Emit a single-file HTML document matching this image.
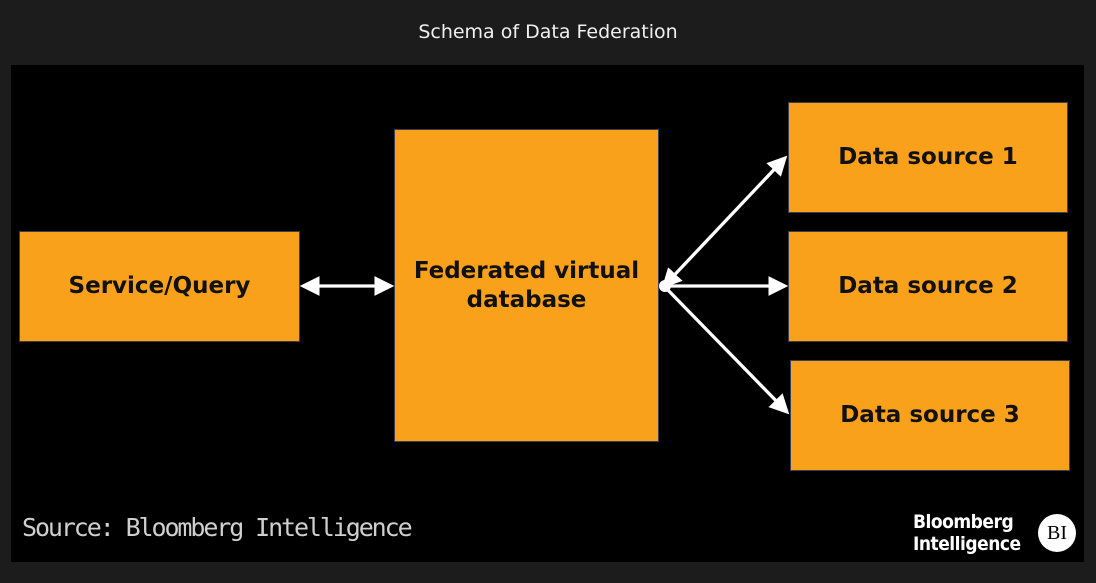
<!DOCTYPE html>
<html><head><style>
body{margin:0;width:1096px;height:583px;background:#1c1c1c;position:relative;overflow:hidden;font-family:"Liberation Sans","DejaVu Sans",sans-serif}
.t{position:absolute;top:21px;left:0;width:1096px;text-align:center;color:#f0f0f0;font-size:19px;font-family:"DejaVu Sans",sans-serif}
.p{position:absolute;left:11px;top:65px;width:1073px;height:497px;background:#000}
.b{position:absolute;background:#f9a11b;border:1px solid #3a3f55;box-sizing:border-box;display:flex;align-items:center;justify-content:center;text-align:center;font-weight:bold;font-size:23px;color:#111;line-height:29px;font-family:"DejaVu Sans",sans-serif}
.src{position:absolute;left:22px;top:513px;color:#cfcfcf;font-size:25px;font-family:"DejaVu Sans Mono","Liberation Mono",monospace;letter-spacing:-2.1px}
.bl{position:absolute;left:913px;top:511px;color:#fff;font-size:19px;line-height:22px;font-weight:bold;font-family:"DejaVu Sans Condensed","Liberation Sans Narrow",sans-serif;letter-spacing:-0.5px}
.bi{position:absolute;left:1038px;top:514px;width:38px;height:38px;border-radius:50%;background:#fff;color:#000;font-family:"Liberation Serif",serif;font-size:20px;display:flex;align-items:center;justify-content:center}
</style></head><body>
<div class="t">Schema of Data Federation</div>
<div class="p"></div>
<div class="b" style="left:19px;top:231px;width:281px;height:111px">Service/Query</div>
<div class="b" style="left:394px;top:129px;width:265px;height:313px">Federated virtual<br>database</div>
<div class="b" style="left:788px;top:102px;width:280px;height:111px">Data source 1</div>
<div class="b" style="left:788px;top:231px;width:280px;height:111px">Data source 2</div>
<div class="b" style="left:790px;top:360px;width:280px;height:111px">Data source 3</div>
<svg width="1096" height="583" style="position:absolute;left:0;top:0">
<defs><marker id="a" markerWidth="6" markerHeight="6" refX="5" refY="3" orient="auto-start-reverse" markerUnits="strokeWidth"><path d="M0,0 L6,3 L0,6 z" fill="#fff"/></marker></defs>
<g stroke="#fff" stroke-width="3.3" fill="none">
<line x1="303" y1="286" x2="391" y2="286" marker-start="url(#a)" marker-end="url(#a)"/>
<line x1="664" y1="286" x2="785" y2="158" marker-start="url(#a)" marker-end="url(#a)"/>
<line x1="664" y1="286" x2="785" y2="286" marker-end="url(#a)"/>
<line x1="664" y1="286" x2="787" y2="412" marker-end="url(#a)"/>
</g>
<circle cx="665" cy="286" r="6" fill="#fff"/>
</svg>
<div class="src">Source: Bloomberg Intelligence</div>
<div class="bl">Bloomberg<br>Intelligence</div>
<div class="bi">BI</div>
</body></html>
